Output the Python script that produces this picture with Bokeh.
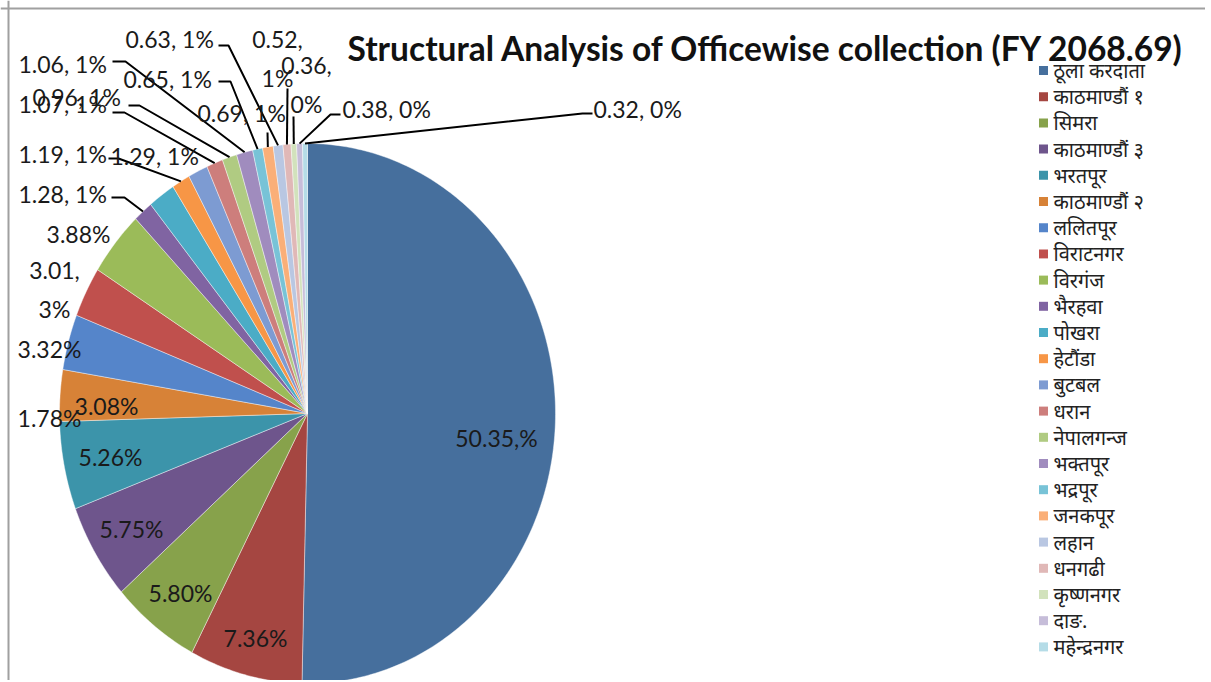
import math
from bokeh.plotting import figure
from bokeh.models import Range1d, Span, ColumnDataSource
from bokeh.core.properties import value
from bokeh.embed import file_html
from bokeh.resources import INLINE

# ---------------- data ----------------
offices = ["ठूला करदाता", "काठमाण्डौं १", "सिमरा", "काठमाण्डौं ३", "भरतपूर",
           "काठमाण्डौं २", "ललितपूर", "विराटनगर", "विरगंज", "भैरहवा", "पोखरा",
           "हेटौंडा", "बुटबल", "धरान", "नेपालगन्ज", "भक्तपूर", "भद्रपूर",
           "जनकपूर", "लहान", "धनगढी", "कृष्णनगर", "दाङ.", "महेन्द्रनगर"]
shares = [50.35, 7.36, 5.80, 5.75, 5.26, 3.08, 3.32, 3.01, 3.88, 1.28, 1.78,
          1.19, 1.29, 1.07, 0.96, 1.06, 0.65, 0.69, 0.63, 0.52, 0.36, 0.38, 0.32]
label_texts = ["50.35,%", "7.36%", "5.80%", "5.75%", "5.26%", "3.08%", "3.32%",
               "3.01,\n3%", "3.88%", "1.28, 1%", "1.78%", "1.19, 1%", "1.29, 1%",
               "1.07, 1%", "0.96, 1%", "1.06, 1%", "0.65, 1%", "0.69, 1%",
               "0.63, 1%", "0.52,\n1%", "0.36,\n0%", "0.38, 0%", "0.32, 0%"]
title_text = "Structural Analysis of Officewise collection (FY 2068.69)"

# ---------------- styles / layout ----------------
colors = ["#466F9D", "#A54641", "#87A24B", "#6E558C", "#3C94AA", "#D78237",
          "#5585CA", "#C0504D", "#9BBB59", "#8064A2", "#4BACC6", "#F79646",
          "#7D9BD2", "#CD7E7C", "#B0CB82", "#A08CBE", "#78C3D7", "#FAAF78",
          "#B9C7E2", "#E0B8B7", "#D2E2BC", "#C6BDD9", "#B5DCE7"]

W, H = 1205, 680
CX, CY, RX, RY = 307, 413, 248, 270

# label anchors (pixel layout): x, y, alignment
lab_x = [496, 255, 180, 131, 110, 106, 49, 54, 78, 18, 49, 18, 110, 18, 32, 18,
         123, 197, 125, 277, 306, 342, 593]
lab_y = [437, 637, 592, 528, 456, 405, 348, 289, 233, 193, 417, 153, 155, 103,
         96, 63, 78, 112, 38, 58, 84, 108, 108]
lab_align = ["center"] * 9 + ["left", "center", "left", "left", "left", "left",
                              "left", "left", "left", "left", "center", "center",
                              "left", "left"]
# leader lines: slice index -> (start point, elbow point)
leaders = {9: ((111, 197), (124, 197)), 11: ((108, 158), (118, 158)),
           13: ((112, 112), (124, 112)), 14: ((128, 105), (139, 105)),
           15: ((112, 61), (125, 61)), 16: ((218, 81), (230, 81)),
           17: ((267, 132), (267, 132)), 18: ((218, 45), (228, 45)),
           19: ((287, 88), (287, 88)), 20: ((293, 116), (293, 116)),
           21: ((340, 114), (330, 114)), 22: ((592, 113), (582, 113))}

# ---------------- geometry from data ----------------
total = sum(shares)
xs, ys, mids = [], [], []
cum = 0.0
for v in shares:
    a0 = cum / total * 2 * math.pi
    cum += v
    a1 = cum / total * 2 * math.pi
    n = max(3, int((a1 - a0) / (2 * math.pi) * 400))
    px, py = [CX], [CY]
    for k in range(n + 1):
        t = a0 + (a1 - a0) * k / n
        px.append(CX + RX * math.sin(t))
        py.append(CY - RY * math.cos(t))
    xs.append(px)
    ys.append(py)
    mids.append((a0 + a1) / 2)

p = figure(width=W, height=H, output_backend="svg", toolbar_location=None,
           x_range=Range1d(0, W), y_range=Range1d(H, 0),
           min_border=0, outline_line_color=None)
p.xaxis.visible = False
p.yaxis.visible = False
p.grid.visible = False

p.patches(xs=xs, ys=ys, fill_color=colors, line_color="white",
          line_width=0.6, line_alpha=0.7)

# leader lines
for i, (s, e) in leaders.items():
    t = mids[i]
    ex, ey = CX + RX * math.sin(t), CY - RY * math.cos(t)
    p.line([s[0], e[0], ex], [s[1], e[1], ey], line_color="black", line_width=2)

FONT = "Lato"
for align in ("left", "center"):
    idx = [i for i in range(len(shares)) if lab_align[i] == align]
    src = ColumnDataSource(dict(x=[lab_x[i] for i in idx], y=[lab_y[i] for i in idx],
                                t=[label_texts[i] for i in idx]))
    p.text(x="x", y="y", text="t", source=src, text_font=value(FONT),
           text_font_size="23px", text_color="#1a1a1a", text_align=align,
           text_baseline="middle", text_line_height=1.4)

# title
p.text(x=[347], y=[47], text=[title_text], text_font=value(FONT),
       text_font_size="33.5px", text_font_style="bold", text_color="#111111",
       text_align="left", text_baseline="middle")

# legend (manual)
LEG_X, LEG_Y0, LEG_DY = 1043, 70, 26.2
leg_y = [LEG_Y0 + i * LEG_DY for i in range(len(offices))]
p.rect(x=[LEG_X] * len(offices), y=leg_y, width=9, height=9,
       width_units="screen", height_units="screen", fill_color=colors, line_color=None)
p.text(x=[LEG_X + 10] * len(offices), y=leg_y, text=offices,
       text_font=value("Noto Sans"), text_font_size="20px", text_color="#222222",
       text_align="left", text_baseline="middle")

# frame edges (top and left only)
p.add_layout(Span(location=8, dimension="width", line_color="#A0A0A0", line_width=2))
p.add_layout(Span(location=8, dimension="height", line_color="#A0A0A0", line_width=2))

open("out.html", "w").write(file_html(p, INLINE))
